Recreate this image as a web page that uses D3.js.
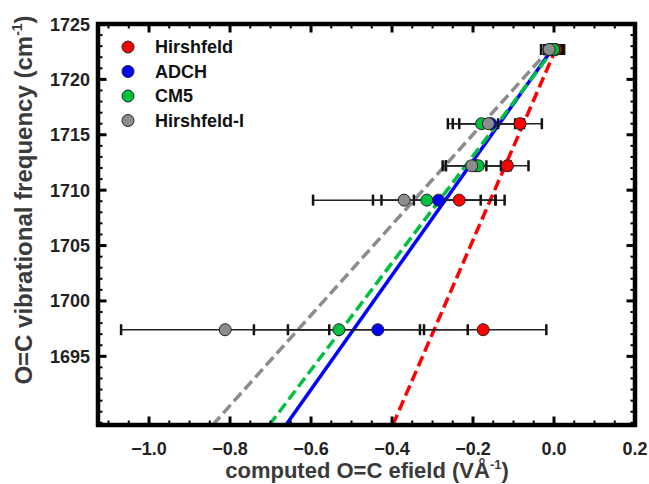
<!DOCTYPE html>
<html>
<head>
<meta charset="utf-8">
<script src="https://cdn.jsdelivr.net/npm/d3@7"></script>
<style>
  body { margin: 0; background: #fff; }
  svg { display: block; font-family: "Liberation Sans", Arial, sans-serif; font-weight: bold; }
</style>
</head>
<body>
<svg id="chart" width="649" height="484"></svg>
<script>
// Data
const series = ["Hirshfeld", "ADCH", "CM5", "Hirshfeld-I"];
const colors = ["#ff0000", "#0000ff", "#00c040", "#8c8c8c"];
const freqs = [1722.7, 1716.0, 1712.2, 1709.1, 1697.4];

const efHirshfeld = [0.004, -0.084, -0.115, -0.234, -0.175];
const efADCH = [-0.005, -0.156, -0.193, -0.285, -0.435];
const efCM5 = [-0.001, -0.179, -0.187, -0.314, -0.531];
const efHirshfeldI = [-0.012, -0.162, -0.203, -0.370, -0.812];

const errHirshfeld = [0.021, 0.054, 0.052, 0.112, 0.156];
const errADCH = [0.020, 0.078, 0.074, 0.141, 0.222];
const errCM5 = [0.021, 0.083, 0.080, 0.133, 0.210];
const errHirshfeldI = [0.020, 0.088, 0.072, 0.225, 0.257];

// fitted lines: [efield, frequency] at both ends
const fitHirshfeld = [[-0.398, 1688.8], [0.004, 1722.7]];
const fitADCH = [[-0.662, 1688.8], [-0.005, 1722.7]];
const fitCM5 = [[-0.703, 1688.8], [-0.001, 1722.7]];
const fitHirshfeldI = [[-0.843, 1688.8], [-0.012, 1722.7]];

const xTicks = [-1.0, -0.8, -0.6, -0.4, -0.2, 0.0, 0.2];
const yTicks = [1695, 1700, 1705, 1710, 1715, 1720, 1725];

const efields = [efHirshfeld, efADCH, efCM5, efHirshfeldI];
const errors = [errHirshfeld, errADCH, errCM5, errHirshfeldI];
const fits = [fitHirshfeld, fitADCH, fitCM5, fitHirshfeldI];
const dashes = ["11,5", null, "11,5", "11,5"];

const pLeft = 98, pRight = 635, pTop = 24, pBottom = 425;

const svg = d3.select("#chart");

const x = d3.scaleLinear().domain([-1.126, 0.2]).range([pLeft, pRight]);
const y = d3.scaleLinear().domain([1688.8, 1725]).range([pBottom, pTop]);

svg.append("defs").append("clipPath").attr("id", "clip")
  .append("rect")
    .attr("x", pLeft).attr("y", pTop)
    .attr("width", pRight - pLeft).attr("height", pBottom - pTop);

// Fit lines
const line = d3.line().x(d => x(d[0])).y(d => y(d[1]));
const plot = svg.append("g").attr("clip-path", "url(#clip)");

fits.forEach((f, i) => {
  plot.append("path")
    .datum(f)
    .attr("fill", "none")
    .attr("stroke", colors[i])
    .attr("stroke-width", 3.5)
    .attr("stroke-dasharray", dashes[i])
    .attr("d", line);
});

// Error bars
efields.forEach((ef, i) => {
  const g = plot.append("g");
  ef.forEach((v, j) => {
    const e = errors[i][j];
    const yy = y(freqs[j]);
    g.append("line")
      .attr("x1", x(v - e)).attr("x2", x(v + e))
      .attr("y1", yy).attr("y2", yy)
      .attr("stroke", "#222").attr("stroke-width", 1.5);
    [v - e, v + e].forEach(c => {
      g.append("line")
        .attr("x1", x(c)).attr("x2", x(c))
        .attr("y1", yy - 5.5).attr("y2", yy + 5.5)
        .attr("stroke", "#111").attr("stroke-width", 2.5);
    });
  });
});

// Points
efields.forEach((ef, i) => {
  plot.append("g").selectAll("circle")
    .data(ef)
    .join("circle")
      .attr("cx", d => x(d))
      .attr("cy", (d, j) => y(freqs[j]))
      .attr("r", 6)
      .attr("fill", colors[i])
      .attr("stroke", "#222")
      .attr("stroke-width", 1);
});

// Ticks on all four sides, pointing inward
const xMinor = d3.range(-1.1, 0.2001, 0.05);
const yMinor = d3.range(1689, 1725.001, 1);

function tickLines(vals, len, w) {
  vals.forEach(v => {
    const px = x(v);
    svg.append("line").attr("x1", px).attr("x2", px).attr("y1", pBottom).attr("y2", pBottom - len)
      .attr("stroke", "#000").attr("stroke-width", w);
    svg.append("line").attr("x1", px).attr("x2", px).attr("y1", pTop).attr("y2", pTop + len)
      .attr("stroke", "#000").attr("stroke-width", w);
  });
}
function tickLinesY(vals, len, w) {
  vals.forEach(v => {
    const py = y(v);
    svg.append("line").attr("x1", pLeft).attr("x2", pLeft + len).attr("y1", py).attr("y2", py)
      .attr("stroke", "#000").attr("stroke-width", w);
    svg.append("line").attr("x1", pRight).attr("x2", pRight - len).attr("y1", py).attr("y2", py)
      .attr("stroke", "#000").attr("stroke-width", w);
  });
}
tickLines(xMinor, 4.5, 2);
tickLines(xTicks, 8.5, 3);
tickLinesY(yMinor, 4.5, 2);
tickLinesY(yTicks, 8.5, 3);

svg.append("rect")
  .attr("x", pLeft).attr("y", pTop)
  .attr("width", pRight - pLeft).attr("height", pBottom - pTop)
  .attr("fill", "none").attr("stroke", "#000").attr("stroke-width", 4.5);

// Tick labels
svg.append("g").selectAll("text")
  .data(xTicks)
  .join("text")
    .attr("x", d => x(d))
    .attr("y", 455)
    .attr("text-anchor", "middle")
    .attr("font-size", 18)
    .attr("fill", "#222")
    .text(d => d3.format(".1f")(d).replace("-", "\u2212"));

svg.append("g").selectAll("text")
  .data(yTicks)
  .join("text")
    .attr("x", 90)
    .attr("y", d => y(d) + 6.5)
    .attr("text-anchor", "end")
    .attr("font-size", 18)
    .attr("fill", "#222")
    .text(d => d);

// Axis titles
const xt = svg.append("text")
  .attr("x", 367).attr("y", 478)
  .attr("text-anchor", "middle")
  .attr("font-size", 22)
  .attr("fill", "#3a3a3a");
xt.append("tspan").text("computed O=C efield (VÅ");
xt.append("tspan").attr("font-size", 13).attr("dy", -9).text("-1");
xt.append("tspan").attr("dy", 9).text(")");

const yt = svg.append("text")
  .attr("transform", "translate(32,200) rotate(-90)")
  .attr("text-anchor", "middle")
  .attr("font-size", 24)
  .attr("fill", "#3a3a3a");
yt.append("tspan").text("O=C vibrational frequency (cm");
yt.append("tspan").attr("font-size", 14).attr("dy", -10).text("-1");
yt.append("tspan").attr("dy", 10).text(")");

// Legend
const legend = svg.append("g");
series.forEach((s, i) => {
  const ly = 47 + i * 24.5;
  legend.append("circle")
    .attr("cx", 128).attr("cy", ly).attr("r", 6)
    .attr("fill", colors[i]).attr("stroke", "#222").attr("stroke-width", 1);
  legend.append("text")
    .attr("x", 155).attr("y", ly + 6)
    .attr("font-size", 18)
    .attr("fill", "#111")
    .text(s);
});
</script>
</body>
</html>
